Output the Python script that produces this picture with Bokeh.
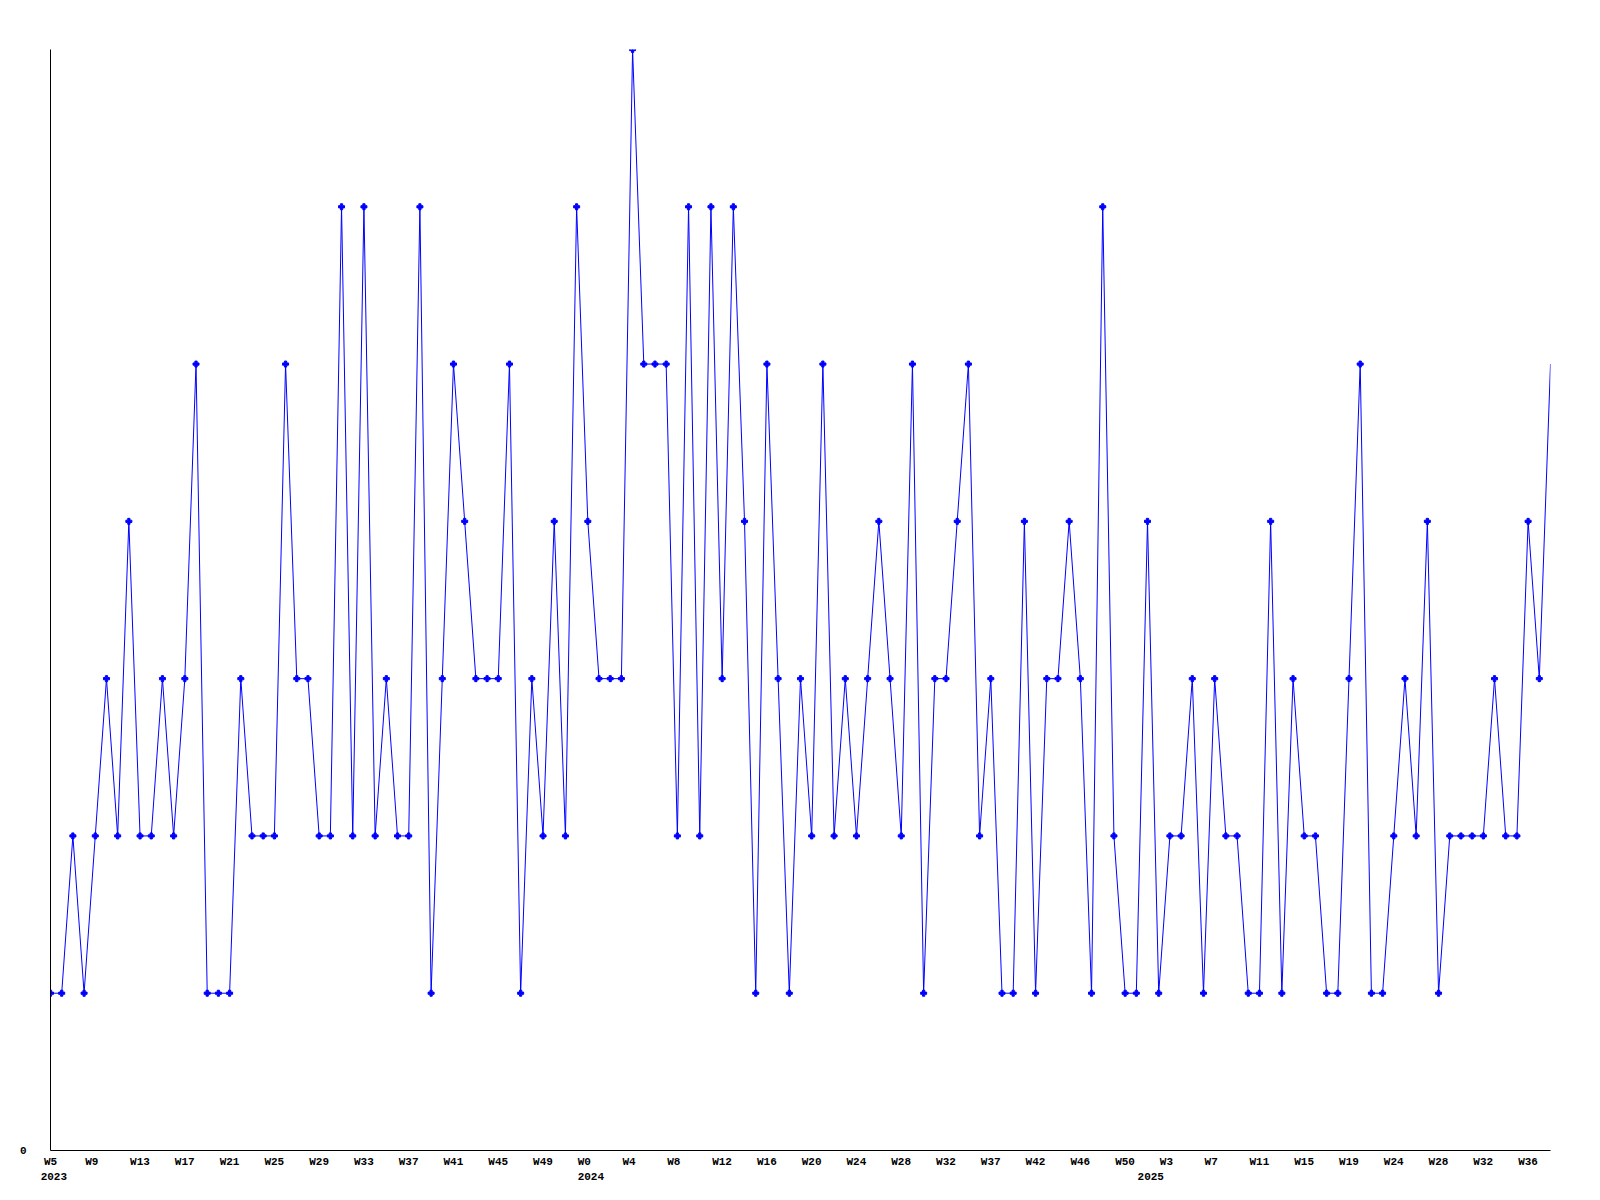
from bokeh.plotting import figure
from bokeh.models import Range1d, FixedTicker, LinearAxis
from bokeh.embed import file_html
from bokeh.resources import INLINE

# weekly counts, 2023 W5 .. 2025 W37
values = [1, 1, 2, 1, 2, 3, 2, 4, 2, 2, 3, 2, 3, 5, 1, 1, 1, 3, 2, 2,
          2, 5, 3, 3, 2, 2, 6, 2, 6, 2, 3, 2, 2, 6, 1, 3, 5, 4, 3, 3,
          3, 5, 1, 3, 2, 4, 2, 6, 4, 3, 3, 3, 7, 5, 5, 5, 2, 6, 2, 6,
          3, 6, 4, 1, 5, 3, 1, 3, 2, 5, 2, 3, 2, 3, 4, 3, 2, 5, 1, 3,
          3, 4, 5, 2, 3, 1, 1, 4, 1, 3, 3, 4, 3, 1, 6, 2, 1, 1, 4, 1,
          2, 2, 3, 1, 3, 2, 2, 1, 1, 4, 1, 3, 2, 2, 1, 1, 3, 5, 1, 1,
          2, 3, 2, 4, 1, 2, 2, 2, 2, 3, 2, 2, 4, 3, 5]
week_labels = ["W5", "W9", "W13", "W17", "W21", "W25", "W29", "W33", "W37", "W41", "W45", "W49",
               "W0", "W4", "W8", "W12", "W16", "W20", "W24", "W28", "W32", "W37", "W42", "W46", "W50",
               "W3", "W7", "W11", "W15", "W19", "W24", "W28", "W32", "W36"]
year_labels = ["2023", "2024", "2025"]
year_positions = [0.30, 48.27, 98.29]

x = list(range(len(values)))
n = len(values)
FONT = "Liberation Mono"

p = figure(width=1592, height=1192, output_backend="svg", toolbar_location=None,
           x_range=Range1d(0, n - 1), y_range=Range1d(0, 7),
           min_border_left=50, min_border_right=42, min_border_top=49, min_border_bottom=42)
p.outline_line_color = None
p.grid.visible = False
p.background_fill_color = "white"
p.border_fill_color = "white"

p.line(x, values, line_color="#0000ff", line_width=1)
p.scatter(x[:-1], values[:-1], marker="plus", size=6, color="#0000ff")


def style(ax):
    ax.major_tick_line_color = None
    ax.minor_tick_line_color = None
    ax.major_tick_out = 0
    ax.major_tick_in = 0
    ax.major_label_text_font = FONT
    ax.major_label_text_font_style = "bold"
    ax.major_label_text_font_size = "11px"
    ax.major_label_text_color = "black"


# week labels every 4 weeks (label centres; the first one kept inside the range)
tick_pos = [max(0.0, 4 * k - 0.93 + len(lab) * 0.308) for k, lab in enumerate(week_labels)]
xa = p.xaxis[0]
xa.ticker = FixedTicker(ticks=tick_pos)
xa.major_label_overrides = {t: lab for t, lab in zip(tick_pos, week_labels)}
style(xa)
xa.axis_line_color = "black"
xa.major_label_standoff = 5

ya = LinearAxis(ticker=FixedTicker(ticks=year_positions),
                major_label_overrides={t: lab for t, lab in zip(year_positions, year_labels)})
style(ya)
ya.axis_line_color = None
ya.major_label_standoff = 2
p.add_layout(ya, "below")

yx = p.yaxis[0]
yx.ticker = FixedTicker(ticks=[0])
style(yx)
yx.major_label_standoff = 24
yx.axis_line_color = "black"

open("out.html", "w").write(file_html(p, INLINE))
